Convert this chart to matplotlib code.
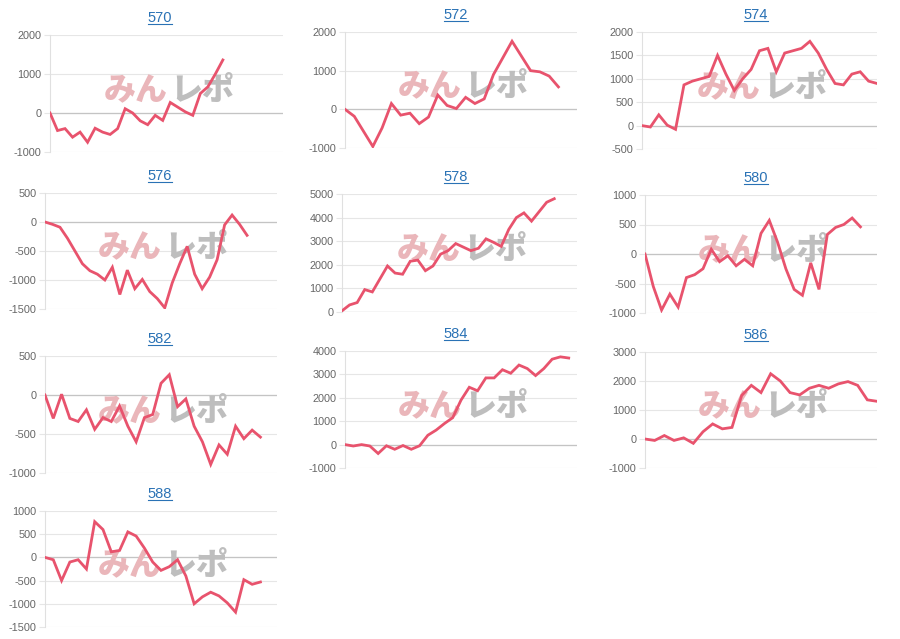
import numpy as np
import matplotlib.pyplot as plt
from matplotlib.lines import Line2D

plt.rcParams['font.family'] = ['Liberation Sans', 'DejaVu Sans']
plt.rcParams['axes.unicode_minus'] = False

# ---- data (cumulative values per day) ----
titles = ['570', '572', '574', '576', '578', '580', '582', '584', '586', '588']

v570 = [0, -450, -400, -620, -490, -750, -390, -490, -550, -400, 110, 0,
        -200, -300, -60, -190, 270, 150, 30, -60, 500, 670, 1000, 1360]
v572 = [0, -180, -570, -960, -480, 150, -150, -100, -370, -200, 370, 100,
        20, 310, 150, 270, 900, 1330, 1760, 1380, 1000, 970, 860, 580]
v574 = [0, -30, 230, 10, -80, 870, 950, 1000, 1050, 1500, 1100, 750, 1000,
        1200, 1600, 1650, 1150, 1550, 1600, 1650, 1800, 1550, 1200, 900, 870,
        1100, 1150, 950, 900]
v576 = [0, -40, -90, -280, -500, -720, -840, -900, -1000, -780, -1250, -830,
        -1150, -990, -1200, -1320, -1480, -1050, -720, -420, -900, -1150,
        -950, -650, -50, 120, -40, -230]
v578 = [50, 300, 400, 950, 850, 1400, 1950, 1650, 1600, 2150, 2200, 1750,
        1950, 2450, 2600, 2900, 2750, 2600, 2700, 3100, 2950, 2780, 3500, 4000,
        4200, 3850, 4250, 4650, 4800]
v580 = [0, -550, -950, -680, -900, -400, -350, -250, 80, -130, -30, -200,
        -90, -200, 350, 570, 200, -250, -600, -700, -150, -600, 330, 450, 500,
        610, 460]
v582 = [0, -300, 10, -300, -340, -190, -440, -290, -340, -140, -400, -600,
        -290, -250, 150, 260, -150, -50, -400, -600, -890, -640, -760, -400,
        -560, -450, -540]
v584 = [0, -60, 0, -60, -380, -50, -200, -40, -200, -50, 400, 620, 900, 1150,
        1900, 2450, 2300, 2850, 2850, 3200, 3050, 3400, 3250, 2950, 3250, 3650,
        3750, 3700]
v586 = [0, -50, 120, -50, 40, -150, 250, 520, 350, 400, 1500, 1850, 1600,
        2250, 2000, 1600, 1520, 1750, 1850, 1750, 1900, 1980, 1850, 1350, 1300]
v588 = [0, -50, -500, -100, -50, -250, 770, 600, 120, 150, 550, 460, 200,
        -100, -280, -200, -50, -400, -1000, -850, -750, -830, -980, -1180,
        -480, -580, -530]

values = [v570, v572, v574, v576, v578, v580, v582, v584, v586, v588]
days = [32, 26, 29, 32, 32, 29, 29, 29, 25, 29]   # x slots on each axis
yticks = [(-1000, 2000, 1000), (-1000, 2000, 1000), (-500, 2000, 500),
          (-1500, 500, 500), (0, 5000, 1000), (-1000, 1000, 500),
          (-1000, 500, 500), (-1000, 4000, 1000), (-1000, 3000, 1000),
          (-1500, 1000, 500)]

# panel boxes in pixels: left, top, right, bottom
boxes = [(50, 35, 283, 152), (345, 32, 577, 148), (642, 32, 877, 149),
         (45, 193, 277, 309), (342, 194, 577, 312), (645, 195, 877, 313),
         (45, 356, 277, 473), (345, 351, 577, 468), (645, 352, 877, 468),
         (45, 511, 277, 627)]
title_x = [160, 456, 756]

W, H = 900, 639
fig = plt.figure(figsize=(W / 100, H / 100), dpi=100)
fig.patch.set_facecolor('white')

line_col = '#e8536d'
title_col = '#2a72b5'

title_texts = []
for i, (name, vals) in enumerate(zip(titles, values)):
    l, t, r, b = boxes[i]
    ax = fig.add_axes([l / W, 1 - b / H, (r - l) / W, (b - t) / H])
    lo, hi, step = yticks[i]
    ax.set_ylim(lo, hi)
    ax.set_xlim(0, days[i] - 1)
    ax.set_yticks(np.arange(lo, hi + 1, step))
    ax.set_xticks([])
    ax.grid(axis='y', color='#e6e6e6', linewidth=0.8)
    ax.set_axisbelow(True)
    ax.axhline(0, color='#c4c4c4', linewidth=0.9, zorder=1)
    for s in ['top', 'right', 'bottom']:
        ax.spines[s].set_visible(False)
    ax.spines['left'].set_color('#e0e0e0')
    ax.tick_params(axis='y', length=4, width=0.8, color='#e6e6e6',
                   labelsize=7.8, labelcolor='#666666', pad=2)

    # watermark
    ax.text(0.505, 0.53, 'みん', transform=ax.transAxes, ha='right', va='center',
            fontsize=23, fontweight='black', color='#eab6ba',
            family=['Noto Sans CJK JP'], zorder=2)
    ax.text(0.515, 0.53, 'レポ', transform=ax.transAxes, ha='left', va='center',
            fontsize=23, fontweight='black', color='#bebebe',
            family=['Noto Sans CJK JP'], zorder=2)

    ax.plot(np.arange(len(vals)), vals, color=line_col, linewidth=2.0,
            solid_joinstyle='miter', zorder=3)

    tx = title_x[i % 3]
    ty = t - 17
    txt = fig.text(tx / W, 1 - ty / H, name, ha='center', va='center',
                   fontsize=10.5, color=title_col)
    title_texts.append(txt)

# underline the titles
fig.canvas.draw()
rend = fig.canvas.get_renderer()
for txt in title_texts:
    bb = txt.get_window_extent(rend)
    y = (bb.y0 + 1) / H
    fig.add_artist(Line2D([bb.x0 / W, bb.x1 / W], [y, y],
                          color=title_col, linewidth=0.8))

fig.savefig('out.png', dpi=100)
